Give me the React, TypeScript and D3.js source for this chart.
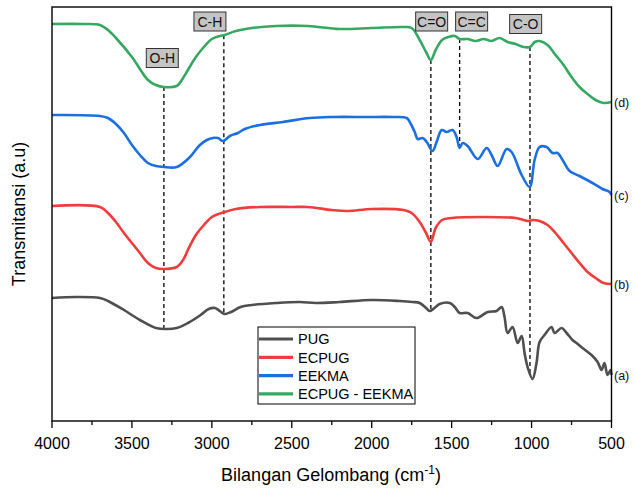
import React from "react";
import * as d3 from "d3";

type Pt = [number, number];

// Wavenumber (cm-1) vs transmittance (a.u., stacked offsets)
const PUG: Pt[] = [
  [4000, 123], [3850, 124], [3700, 123], [3650, 120], [3550, 111], [3450, 101], [3350, 93], [3280, 92],
  [3220, 93], [3150, 98], [3070, 106], [3020, 112], [2980, 113], [2950, 110], [2920, 107], [2880, 109],
  [2820, 114], [2750, 116], [2600, 118], [2450, 119], [2350, 118], [2200, 119], [2000, 121], [1825, 120],
  [1744, 119], [1700, 118], [1660, 113], [1638, 110], [1600, 114], [1575, 117], [1512, 118], [1481, 114],
  [1450, 108], [1400, 108], [1344, 103], [1275, 109], [1219, 110], [1187, 114], [1169, 104], [1150, 88],
  [1119, 94], [1087, 78], [1062, 85], [1044, 68], [1025, 54], [994, 42], [969, 58], [950, 79], [919, 86],
  [875, 94], [856, 88], [812, 93], [781, 88], [744, 81], [719, 78], [681, 73], [625, 66], [587, 59],
  [562, 51], [544, 58], [525, 46], [506, 51], [500, 46],
];

const ECPUG: Pt[] = [
  [4000, 215], [3700, 214], [3650, 208], [3600, 199], [3550, 188], [3450, 168], [3400, 158], [3350, 153],
  [3300, 152], [3220, 154], [3180, 161], [3150, 171], [3100, 186], [3050, 196], [3000, 204], [2920, 209],
  [2850, 212], [2700, 214], [2500, 214], [2400, 214], [2250, 211], [2150, 210], [2000, 212], [1800, 211],
  [1750, 208], [1700, 199], [1660, 188], [1630, 179], [1600, 193], [1560, 201], [1500, 203], [1300, 204],
  [1100, 203], [1050, 201], [1020, 200], [990, 201], [950, 200], [900, 196], [850, 188], [800, 178],
  [750, 168], [700, 158], [650, 149], [600, 143], [550, 138], [500, 137],
];

const EEKMA: Pt[] = [
  [4000, 306], [3700, 305], [3650, 303], [3600, 297], [3550, 288], [3500, 276], [3450, 266], [3400, 258],
  [3350, 255], [3300, 254], [3220, 254], [3137, 264], [3075, 276], [3031, 281], [2994, 283], [2962, 283],
  [2931, 280], [2887, 285], [2837, 288], [2794, 292], [2700, 296], [2556, 299], [2387, 303], [2244, 304],
  [2031, 304], [1869, 304], [1781, 303], [1762, 299], [1731, 289], [1712, 282], [1681, 283], [1656, 279],
  [1619, 270], [1594, 279], [1562, 291], [1531, 289], [1494, 291], [1469, 284], [1450, 273], [1431, 278],
  [1400, 275], [1337, 262], [1281, 273], [1250, 266], [1212, 255], [1156, 272], [1125, 269], [1062, 246],
  [1012, 234], [981, 261], [950, 274], [906, 274], [869, 268], [837, 268], [806, 261], [762, 250],
  [700, 245], [619, 238], [556, 232], [512, 229], [500, 226],
];

const ECPUG_EEKMA: Pt[] = [
  [4000, 397], [3800, 397], [3700, 396], [3650, 391], [3600, 383], [3500, 364], [3400, 341], [3350, 336],
  [3300, 334], [3220, 335], [3180, 343], [3150, 351], [3100, 364], [3050, 374], [3000, 382], [2950, 385],
  [2920, 386], [2850, 390], [2750, 393], [2600, 395], [2400, 395], [2200, 392], [2000, 393], [1800, 394],
  [1750, 393], [1700, 381], [1660, 369], [1630, 361], [1600, 371], [1560, 381], [1520, 384], [1480, 385],
  [1450, 382], [1400, 382], [1350, 380], [1300, 382], [1250, 380], [1200, 383], [1150, 379], [1100, 377],
  [1050, 374], [1010, 374], [980, 379], [950, 380], [900, 376], [850, 366], [800, 356], [750, 344],
  [700, 334], [650, 327], [600, 321], [550, 318], [500, 319],
];

const seriesNames = ["PUG", "ECPUG", "EEKMA", "ECPUG - EEKMA"];
const seriesData = [PUG, ECPUG, EEKMA, ECPUG_EEKMA];
const seriesColors = ["#4f4f4f", "#f03c3c", "#1c6fe0", "#36a862"];
const endLabels = ["(a)", "(b)", "(c)", "(d)"];

const xTicks = [4000, 3500, 3000, 2500, 2000, 1500, 1000, 500];
const xMinorTicks = [3750, 3250, 2750, 2250, 1750, 1250, 750];

// dashed marker lines: wavenumber, top series index, bottom series index
const markerWn = [3300, 2925, 1630, 1450, 1010];
const markerTop = [3, 3, 3, 3, 3];
const markerBottom = [0, 0, 0, 2, 0];

// group labels: text, wavenumber of box centre, a.u. level of box centre
const groupLabels = ["O-H", "C-H", "C=O", "C=C", "C-O"];
const groupWn = [3310, 3012, 1625, 1375, 1037];
const groupLevel = [363, 399.5, 399.5, 399.5, 397];

const FONT = "'Liberation Sans', Arial, Helvetica, sans-serif";

function interp(data: Pt[], wn: number): number {
  for (let i = 0; i < data.length - 1; i++) {
    const [w0, v0] = data[i];
    const [w1, v1] = data[i + 1];
    if (wn <= w0 && wn >= w1) {
      const t = (w0 - wn) / (w0 - w1);
      return v0 + t * (v1 - v0);
    }
  }
  return data[data.length - 1][1];
}

export default function App() {
  const W = 635, H = 491;
  const left = 52, right = 611.5, top = 7, bottom = 421;
  const x = d3.scaleLinear().domain([4000, 500]).range([left, right]);
  const y = d3.scaleLinear().domain([0, 414]).range([bottom, top]);
  const line = d3
    .line<Pt>()
    .x((d) => x(d[0]))
    .y((d) => y(d[1]))
    .curve(d3.curveCatmullRom.alpha(0.5));

  return (
    <svg
      width={W}
      height={H}
      style={{ position: "absolute", left: 0, top: 0, background: "#fff" }}
      fontFamily={FONT}
    >
      {/* dashed markers */}
      {markerWn.map((wn, i) => (
        <line
          key={"m" + i}
          x1={x(wn)}
          x2={x(wn)}
          y1={y(interp(seriesData[markerTop[i]], wn))}
          y2={y(interp(seriesData[markerBottom[i]], wn))}
          stroke="#000"
          strokeWidth={1.3}
          strokeDasharray="4,3"
        />
      ))}

      {/* spectra */}
      {seriesData.map((d, i) => (
        <path
          key={"s" + i}
          d={line(d) || ""}
          fill="none"
          stroke={seriesColors[i]}
          strokeWidth={2.6}
          strokeLinejoin="round"
        />
      ))}

      {/* group labels */}
      {groupLabels.map((t, i) => (
        <g key={"g" + i} transform={`translate(${x(groupWn[i])},${y(groupLevel[i])})`}>
          <rect x={-16} y={-9.5} width={32} height={19} fill="#c4c4c4" stroke="#333" strokeWidth={1} />
          <text textAnchor="middle" dy="0.36em" fontSize={14} fill="#111">
            {t}
          </text>
        </g>
      ))}

      {/* end labels */}
      {seriesData.map((d, i) => (
        <text key={"e" + i} x={614} y={y(d[d.length - 1][1])} dy="0.36em" fontSize={12.5} fill="#111">
          {endLabels[i]}
        </text>
      ))}

      {/* frame */}
      <rect x={left} y={top} width={right - left} height={bottom - top} fill="none" stroke="#000" strokeWidth={1.4} />

      {/* x ticks */}
      {xTicks.map((t) => (
        <g key={"t" + t}>
          <line x1={x(t)} x2={x(t)} y1={bottom} y2={bottom + 7} stroke="#000" strokeWidth={1.3} />
          <text x={x(t)} y={bottom + 22} dy="0.36em" textAnchor="middle" fontSize={16} fill="#000">
            {t}
          </text>
        </g>
      ))}
      {xMinorTicks.map((t) => (
        <line key={"mt" + t} x1={x(t)} x2={x(t)} y1={bottom} y2={bottom + 4} stroke="#000" strokeWidth={1.3} />
      ))}

      {/* axis titles */}
      <text x={331} y={475} dy="0.36em" textAnchor="middle" fontSize={18} fill="#000">
        Bilangan Gelombang (cm
        <tspan dy="-7" fontSize={12}>-1</tspan>
        <tspan dy="7">)</tspan>
      </text>
      <text
        transform={`translate(19,${(top + bottom) / 2}) rotate(-90)`}
        textAnchor="middle"
        dy="0.36em"
        fontSize={18}
        fill="#000"
      >
        Transmitansi (a.u)
      </text>

      {/* legend */}
      <g>
        <rect x={258} y={327} width={157} height={77} fill="#fff" stroke="#000" strokeWidth={1} />
        {seriesNames.map((n, i) => (
          <g key={"l" + i} transform={`translate(259,${339 + i * 18.3})`}>
            <line x1={0} x2={34} y1={0} y2={0} stroke={seriesColors[i]} strokeWidth={3.2} />
            <text x={39} dy="0.36em" fontSize={14.5} fill="#000">
              {n}
            </text>
          </g>
        ))}
      </g>
    </svg>
  );
}
